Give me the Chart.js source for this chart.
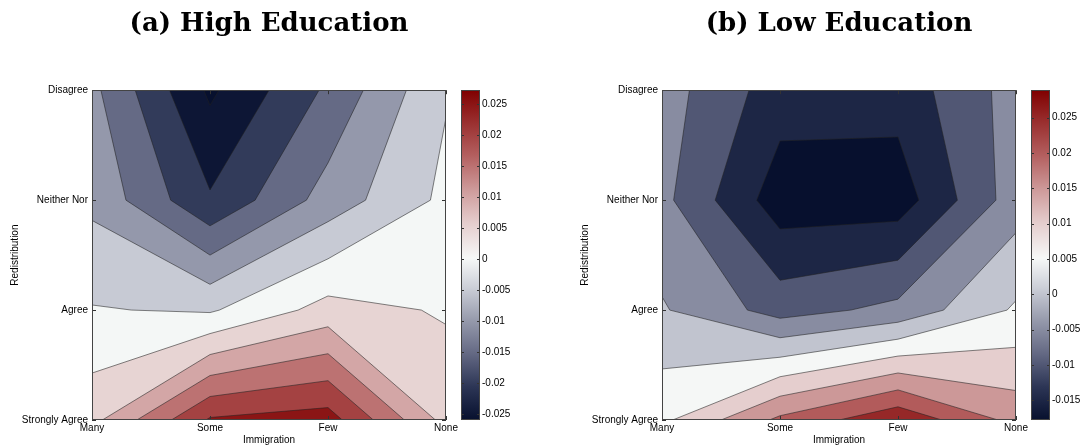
<!DOCTYPE html>
<html>
<head>
<meta charset="utf-8">
<script src="https://cdn.jsdelivr.net/npm/chart.js@4.4.1/dist/chart.umd.min.js"></script>
<style>
  body { margin: 0; background: #fff; width: 1083px; height: 446px; position: relative; overflow: hidden; }
  .box { position: absolute; top: 0; height: 446px; }
</style>
</head>
<body>
<div class="box" style="left:0;width:480px"><canvas id="highPlot"></canvas></div>
<div class="box" style="left:450px;width:110px"><canvas id="highBar"></canvas></div>
<div class="box" style="left:570px;width:480px"><canvas id="lowPlot"></canvas></div>
<div class="box" style="left:1019px;width:64px"><canvas id="lowBar"></canvas></div>
<script>
// axis categories
const immigration = ['Many', 'Some', 'Few', 'None'];
const redistribution = ['Strongly Agree', 'Agree', 'Neither Nor', 'Disagree'];

// (a) High Education - one row per redistribution answer, columns Many..None
const highStrongly = [0.0085, 0.0256, 0.0273, 0.0083];
const highAgree    = [0.0003, -0.0006, 0.0069, 0.0045];
const highNeither  = [-0.0062, -0.0194, -0.0079, 0.0012];
const highDisagree = [-0.0087, -0.0259, -0.0141, -0.0004];

// (b) Low Education
const lowStrongly = [0.0089, 0.0211, 0.0289, 0.0184];
const lowAgree    = [0.0005, -0.0071, -0.0036, 0.0057];
const lowNeither  = [-0.0036, -0.0178, -0.0177, -0.0024];
const lowDisagree = [-0.0027, -0.0126, -0.0130, -0.0029];

// contour levels and colorbar ticks
const highLevels = [-0.025, -0.02, -0.015, -0.01, -0.005, 0, 0.005, 0.01, 0.015, 0.02, 0.025];
const lowLevels  = [-0.015, -0.01, -0.005, 0, 0.005, 0.01, 0.015, 0.02, 0.025];
const highBarTicks = ['-0.025', '-0.02', '-0.015', '-0.01', '-0.005', '0', '0.005', '0.01', '0.015', '0.02', '0.025'];
const lowBarTicks  = ['-0.015', '-0.01', '-0.005', '0', '0.005', '0.01', '0.015', '0.02', '0.025'];

// blue - white - red colormap
const cmapStops = [
  [0.0, '#07102e'], [0.1, '#2c3555'], [0.2, '#636883'], [0.3, '#9599ab'], [0.4, '#cbced7'],
  [0.49, '#f6f8f7'], [0.6, '#e4cccc'], [0.7, '#cd9999'], [0.8, '#b46060'], [0.9, '#9a3030'], [1.0, '#800000']
];

Chart.defaults.font.family = 'Liberation Sans';
Chart.defaults.font.size = 10;
Chart.defaults.color = '#000';

function hexRgb(h) {
  return [1, 3, 5].map(i => parseInt(h.substr(i, 2), 16));
}

function cmapColor(p) {
  p = Math.max(0, Math.min(1, p));
  for (let i = 1; i < cmapStops.length; i++) {
    if (p <= cmapStops[i][0]) {
      const a = cmapStops[i - 1], b = cmapStops[i];
      const t = (p - a[0]) / (b[0] - a[0]);
      const ca = hexRgb(a[1]), cb = hexRgb(b[1]);
      return 'rgb(' + [0, 1, 2].map(k => Math.round(ca[k] + t * (cb[k] - ca[k]))).join(',') + ')';
    }
  }
  return cmapStops[cmapStops.length - 1][1];
}

// part of a cell where value >= level (values linear along the edges)
function clipCell(poly, level) {
  const out = [];
  for (let i = 0; i < poly.length; i++) {
    const a = poly[i], b = poly[(i + 1) % poly.length];
    const ain = a.v >= level, bin = b.v >= level;
    if (ain) out.push(a);
    if (ain !== bin) {
      const t = (level - a.v) / (b.v - a.v);
      out.push({x: a.x + t * (b.x - a.x), y: a.y + t * (b.y - a.y), v: level, cut: true});
    }
  }
  return out;
}

function inwardTicks(ctx, a, xs, ys) {
  ctx.strokeStyle = '#333';
  ctx.lineWidth = 1;
  ctx.beginPath();
  xs.ticks.forEach(t => {
    const px = Math.round(xs.getPixelForValue(t.value)) + 0.5;
    ctx.moveTo(px, a.bottom); ctx.lineTo(px, a.bottom - 4);
    ctx.moveTo(px, a.top); ctx.lineTo(px, a.top + 4);
  });
  ys.ticks.forEach(t => {
    const py = Math.round(ys.getPixelForValue(t.value)) + 0.5;
    ctx.moveTo(a.left, py); ctx.lineTo(a.left + 4, py);
    ctx.moveTo(a.right, py); ctx.lineTo(a.right - 4, py);
  });
  ctx.stroke();
  ctx.strokeStyle = '#444';
  ctx.strokeRect(Math.round(a.left) + 0.5, Math.round(a.top) + 0.5, Math.round(a.width) - 1, Math.round(a.height) - 1);
}

function makeContour(rows, levels) {
  const vals = rows.flat();
  const vmin = Math.min(...vals), vmax = Math.max(...vals);
  const colorAt = v => cmapColor((v - vmin) / (vmax - vmin));
  const bands = [colorAt(vmin)].concat(levels.map(colorAt));
  return {
    id: 'contour',
    beforeDatasetsDraw(chart) {
      const {ctx, chartArea: a, scales: {x, y}} = chart;
      const cells = [];
      for (let r = 0; r < rows.length - 1; r++) {
        for (let c = 0; c < rows[r].length - 1; c++) {
          const corner = (rr, cc) => ({x: x.getPixelForValue(cc), y: y.getPixelForValue(rr), v: rows[rr][cc]});
          cells.push([corner(r, c), corner(r, c + 1), corner(r + 1, c + 1), corner(r + 1, c)]);
        }
      }
      ctx.save();
      ctx.beginPath();
      ctx.rect(a.left, a.top, a.width, a.height);
      ctx.clip();
      ctx.fillStyle = bands[0];
      ctx.fillRect(a.left, a.top, a.width, a.height);
      // one path per level, so neighbouring cells leave no seams
      levels.forEach((lv, k) => {
        ctx.fillStyle = bands[k + 1];
        ctx.beginPath();
        cells.forEach(cell => {
          const poly = clipCell(cell, lv);
          if (poly.length < 3) return;
          poly.forEach((p, i) => i ? ctx.lineTo(p.x, p.y) : ctx.moveTo(p.x, p.y));
          ctx.closePath();
        });
        ctx.fill('nonzero');
      });
      // contour lines
      ctx.strokeStyle = 'rgba(35,35,35,0.8)';
      ctx.lineWidth = 0.7;
      ctx.beginPath();
      levels.forEach(lv => cells.forEach(cell => {
        const poly = clipCell(cell, lv);
        for (let i = 0; i < poly.length; i++) {
          const p = poly[i], q = poly[(i + 1) % poly.length];
          if (p.cut && q.cut) { ctx.moveTo(p.x, p.y); ctx.lineTo(q.x, q.y); }
        }
      }));
      ctx.stroke();
      ctx.restore();
    },
    afterDatasetsDraw(chart) {
      const {ctx, chartArea: a, scales: {x, y}} = chart;
      ctx.save();
      inwardTicks(ctx, a, x, y);
      ctx.restore();
    }
  };
}

function contourChart(id, title, rows, levels) {
  const points = [];
  rows.forEach((row, r) => row.forEach((v, c) => points.push({x: c, y: r, v: v})));
  return new Chart(document.getElementById(id), {
    type: 'scatter',
    data: {datasets: [{data: points, pointRadius: 0, pointHoverRadius: 0}]},
    options: {
      responsive: true,
      maintainAspectRatio: false,
      animation: false,
      events: [],
      layout: {padding: {top: 0, right: 34, bottom: 0, left: 0}},
      plugins: {
        legend: {display: false},
        tooltip: {enabled: false},
        title: {
          display: true,
          text: title,
          fullSize: false,
          color: '#000',
          font: {family: 'DejaVu Serif', size: 26, weight: 'bold'},
          padding: {top: 9, bottom: 50}
        }
      },
      scales: {
        x: {
          type: 'linear', min: 0, max: 3,
          grid: {display: false, drawTicks: false},
          border: {display: false},
          afterBuildTicks: s => { s.ticks = immigration.map((_, i) => ({value: i})); },
          afterFit: s => { s.height = 26; s.paddingLeft = 0; s.paddingRight = 0; },
          ticks: {padding: 2, maxRotation: 0, autoSkip: false, callback: (v, i) => immigration[i]},
          title: {display: true, text: 'Immigration', padding: {top: 0, bottom: 0}}
        },
        y: {
          type: 'linear', min: 0, max: 3,
          grid: {display: false, drawTicks: false},
          border: {display: false},
          afterBuildTicks: s => { s.ticks = redistribution.map((_, i) => ({value: i})); },
          afterFit: s => { s.width = 92; },
          ticks: {padding: 4, autoSkip: false, callback: (v, i) => redistribution[i]},
          title: {display: true, text: 'Redistribution', padding: {top: 9, bottom: 0}}
        }
      }
    },
    plugins: [makeContour(rows, levels)]
  });
}

function colorbarChart(id, rows, tickLabels, leftPad, axisWidth) {
  const vals = rows.flat();
  const vmin = Math.min(...vals), vmax = Math.max(...vals);
  return new Chart(document.getElementById(id), {
    type: 'scatter',
    data: {datasets: [{data: []}]},
    options: {
      responsive: true,
      maintainAspectRatio: false,
      animation: false,
      events: [],
      layout: {padding: {top: 90, bottom: 26, left: leftPad, right: 0}},
      plugins: {legend: {display: false}, tooltip: {enabled: false}},
      scales: {
        x: {display: false, min: 0, max: 1},
        y: {
          position: 'right', min: vmin, max: vmax,
          grid: {display: false, drawTicks: false},
          border: {display: false},
          afterBuildTicks: s => { s.ticks = tickLabels.map(t => ({value: parseFloat(t)})); },
          afterFit: s => { s.width = axisWidth; },
          ticks: {padding: 2, autoSkip: false, callback: (v, i) => tickLabels[i]}
        }
      }
    },
    plugins: [{
      id: 'colorbar',
      beforeDatasetsDraw(chart) {
        const {ctx, chartArea: a, scales: {y}} = chart;
        ctx.save();
        const g = ctx.createLinearGradient(0, a.bottom, 0, a.top);
        cmapStops.forEach(([p, c]) => g.addColorStop(p, c));
        ctx.fillStyle = g;
        ctx.fillRect(a.left, a.top, a.width, a.height);
        ctx.strokeStyle = '#333';
        ctx.lineWidth = 1;
        ctx.beginPath();
        y.ticks.forEach(t => {
          const py = Math.round(y.getPixelForValue(t.value)) + 0.5;
          ctx.moveTo(a.left, py); ctx.lineTo(a.left + 3, py);
          ctx.moveTo(a.right, py); ctx.lineTo(a.right - 3, py);
        });
        ctx.stroke();
        ctx.strokeStyle = '#444';
        ctx.strokeRect(Math.round(a.left) + 0.5, Math.round(a.top) + 0.5, Math.round(a.width) - 1, Math.round(a.height) - 1);
        ctx.restore();
      }
    }]
  });
}

const highRows = [highStrongly, highAgree, highNeither, highDisagree];
const lowRows = [lowStrongly, lowAgree, lowNeither, lowDisagree];

contourChart('highPlot', '(a) High Education', highRows, highLevels);
contourChart('lowPlot', '(b) Low Education', lowRows, lowLevels);
colorbarChart('highBar', highRows, highBarTicks, 11, 80);
colorbarChart('lowBar', lowRows, lowBarTicks, 12, 33);
</script>
</body>
</html>
